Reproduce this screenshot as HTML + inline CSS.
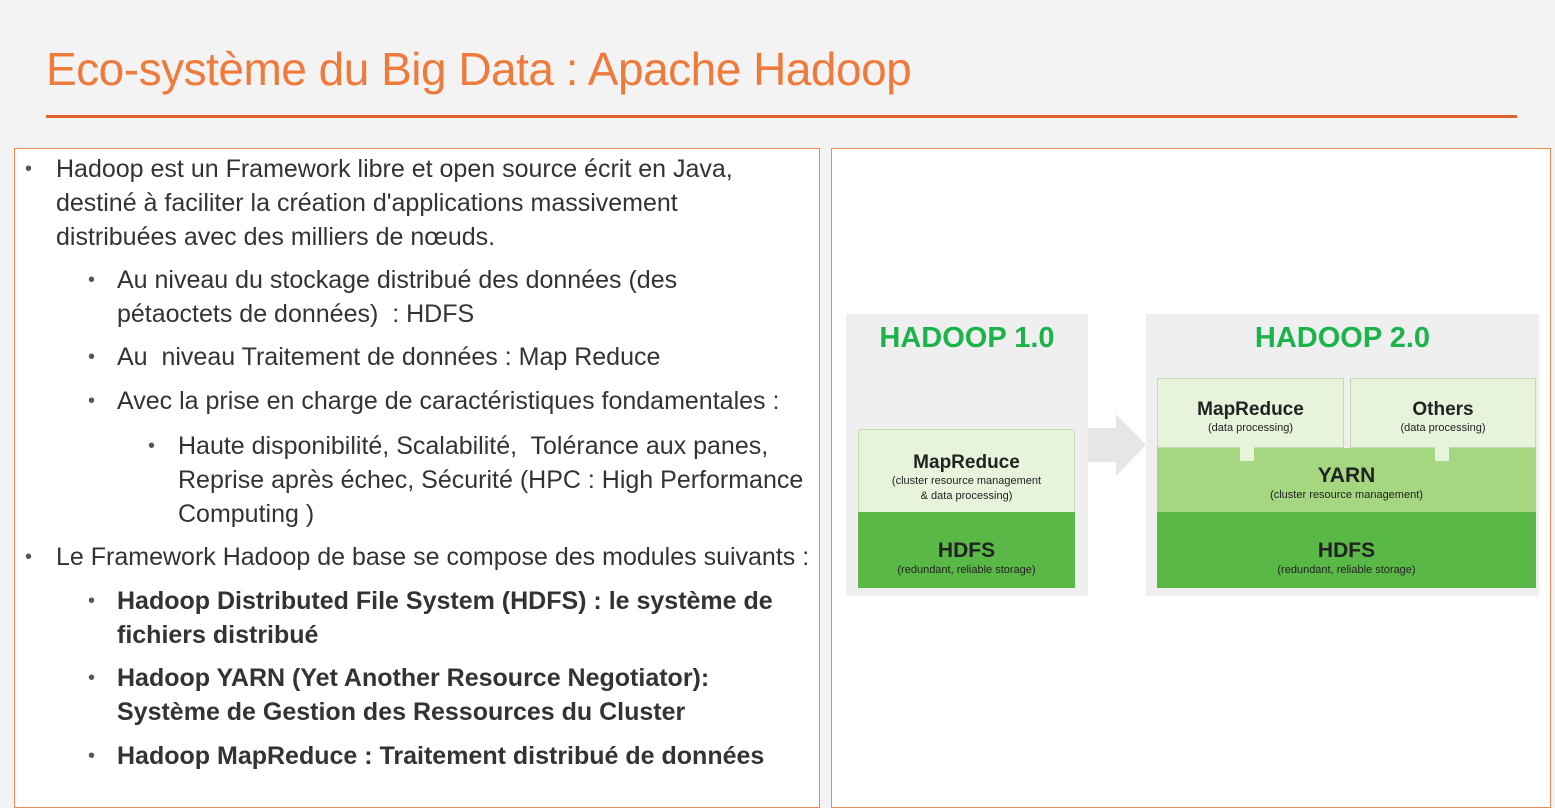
<!DOCTYPE html>
<html><head><meta charset="utf-8"><style>
*{margin:0;padding:0;box-sizing:border-box}
body{width:1555px;height:795px;background:#f3f3f3;position:relative;overflow:hidden;font-family:"Liberation Sans",sans-serif}
.a{position:absolute}
h1{position:absolute;left:46px;top:42px;font-weight:normal;font-size:46px;color:#ee7a3c;letter-spacing:-0.5px}
.t{position:absolute;font-size:25px;color:#333;line-height:34px;white-space:nowrap}
.b{font-weight:bold}
.dot{position:absolute;font-size:20px;color:#555}
.c{position:absolute;text-align:center;font-weight:bold;color:#222}
.s{font-size:11px;font-weight:normal;display:block;line-height:15px}
</style></head><body>
<h1>Eco-système du Big Data : Apache Hadoop</h1>
<div class="a" style="left:46px;top:115px;width:1471px;height:3px;background:#e2632a"></div>
<div class="a" style="left:14px;top:148px;width:806px;height:660px;background:#fff;border:1.5px solid #ee8a55"></div>
<div class="a" style="left:831px;top:148px;width:720px;height:660px;background:#fff;border:1.5px solid #ee8a55"></div>

<div class="dot" style="left:25px;top:158px">•</div>
<div class="t" style="left:56px;top:152px">Hadoop est un Framework libre et open source écrit en Java,<br>destiné à faciliter la création d'applications massivement<br>distribuées avec des milliers de nœuds.</div>
<div class="dot" style="left:88px;top:269px">•</div>
<div class="t" style="left:117px;top:263px">Au niveau du stockage distribué des données (des<br>pétaoctets de données)&nbsp; : HDFS</div>
<div class="dot" style="left:88px;top:346px">•</div>
<div class="t" style="left:117px;top:340px">Au&nbsp; niveau Traitement de données : Map Reduce</div>
<div class="dot" style="left:88px;top:390px">•</div>
<div class="t" style="left:117px;top:384px">Avec la prise en charge de caractéristiques fondamentales :</div>
<div class="dot" style="left:148px;top:435px">•</div>
<div class="t" style="left:178px;top:429px">Haute disponibilité, Scalabilité,&nbsp; Tolérance aux panes,<br>Reprise après échec, Sécurité (HPC : High Performance<br>Computing )</div>
<div class="dot" style="left:25px;top:546px">•</div>
<div class="t" style="left:56px;top:540px">Le Framework Hadoop de base se compose des modules suivants :</div>
<div class="dot" style="left:88px;top:590px">•</div>
<div class="t b" style="left:117px;top:584px">Hadoop Distributed File System (HDFS) : le système de<br>fichiers distribué</div>
<div class="dot" style="left:88px;top:667px">•</div>
<div class="t b" style="left:117px;top:661px">Hadoop YARN (Yet Another Resource Negotiator):<br>Système de Gestion des Ressources du Cluster</div>
<div class="dot" style="left:88px;top:745px">•</div>
<div class="t b" style="left:117px;top:739px">Hadoop MapReduce : Traitement distribué de données</div>

<div class="a" style="left:846px;top:314px;width:242px;height:282px;background:#efefef"></div>
<div class="a" style="left:1146px;top:314px;width:393px;height:282px;background:#efefef"></div>
<svg class="a" style="left:1088px;top:414px" width="60" height="62"><polygon points="0,14 28,14 28,0 58,31 28,62 28,48 0,48" fill="#e6e6e6"/></svg>
<div class="c" style="left:846px;top:322px;width:242px;font-size:29px;color:#1db34b">HADOOP 1.0</div>
<div class="c" style="left:1146px;top:322px;width:393px;font-size:29px;color:#1db34b">HADOOP 2.0</div>

<div class="c" style="left:858px;top:429px;width:217px;height:84px;background:#e8f3dc;border:1px solid #c5d8b5;border-radius:3px 3px 0 0;padding-top:22px;font-size:19px">MapReduce<span class="s">(cluster resource management<br>&amp; data processing)</span></div>
<div class="c" style="left:858px;top:512px;width:217px;height:76px;background:#5ab946;padding-top:27px;font-size:21px">HDFS<span class="s">(redundant, reliable storage)</span></div>

<div class="c" style="left:1157px;top:448px;width:379px;height:65px;background:#a4d77f;padding-top:16px;font-size:21px">YARN<span class="s">(cluster resource management)</span></div>
<div class="c" style="left:1157px;top:378px;width:187px;height:70px;background:#e8f3dc;border:1px solid #c5d8b5;padding-top:20px;font-size:19px">MapReduce<span class="s">(data processing)</span></div>
<div class="c" style="left:1350px;top:378px;width:186px;height:70px;background:#e8f3dc;border:1px solid #c5d8b5;padding-top:20px;font-size:19px">Others<span class="s">(data processing)</span></div>
<div class="a" style="left:1240px;top:447px;width:14px;height:14px;background:#e8f3dc"></div>
<div class="a" style="left:1435px;top:447px;width:14px;height:14px;background:#e8f3dc"></div>
<div class="c" style="left:1157px;top:512px;width:379px;height:76px;background:#5ab946;padding-top:27px;font-size:21px">HDFS<span class="s">(redundant, reliable storage)</span></div>
</body></html>
